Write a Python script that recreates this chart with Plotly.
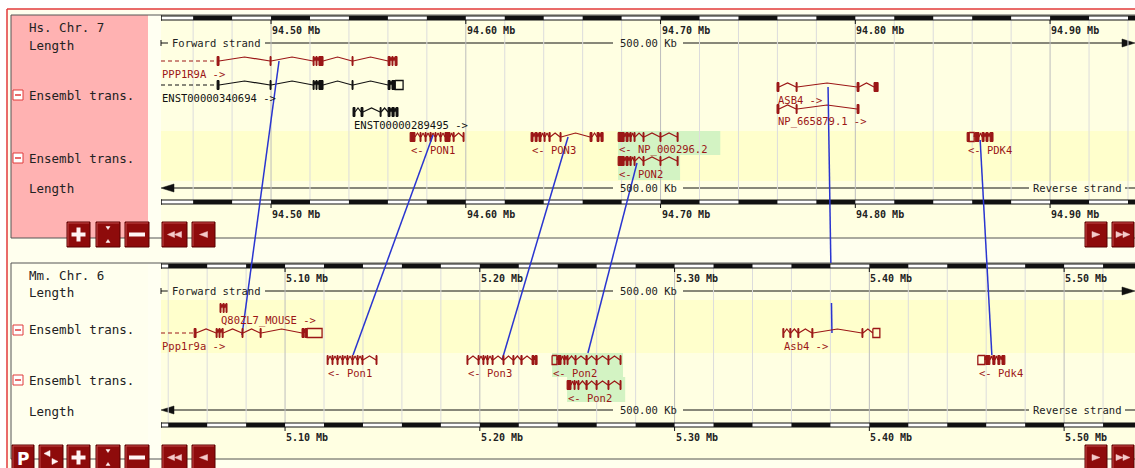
import math
import plotly.graph_objects as go

W, H = 1135, 468
OFF = 0                 # page body margin is removed below, figure fills the window
WF, HF = W - OFF, H - OFF

# ------------------------------------------------------------------ data
HS_VIEW = [94.4435, 94.9436]            # Mb shown, human chr 7
MM_VIEW = [5.0363, 5.5364]              # Mb shown, mouse chr 6
HS_TICKS = [94.50, 94.60, 94.70, 94.80, 94.90]
HS_TICK_LABELS = ["94.50 Mb", "94.60 Mb", "94.70 Mb", "94.80 Mb", "94.90 Mb"]
MM_TICKS = [5.10, 5.20, 5.30, 5.40, 5.50]
MM_TICK_LABELS = ["5.10 Mb", "5.20 Mb", "5.30 Mb", "5.40 Mb", "5.50 Mb"]
RULER_STEP_MB = 0.02
VIEW_LENGTH_LABEL = "500.00 Kb"

HS_TRACK_LABELS = ["Hs. Chr. 7", "Length", "Ensembl trans.", "Ensembl trans.", "Length"]
MM_TRACK_LABELS = ["Mm. Chr. 6", "Length", "Ensembl trans.", "Ensembl trans.", "Length"]

# human transcripts, exon blocks (start, end) in Mb
PPP1R9A_EXONS = [(94.4723, 94.4733), (94.4995, 94.5000), (94.5216, 94.5221), (94.5231, 94.5236),
                 (94.5246, 94.5267), (94.5416, 94.5421), (94.5601, 94.5611), (94.5621, 94.5626),
                 (94.5637, 94.5647)]
ENST340694_EXONS = [(94.4723, 94.4733), (94.4995, 94.5000), (94.5216, 94.5221), (94.5231, 94.5236),
                    (94.5246, 94.5267), (94.5416, 94.5421), (94.5601, 94.5611), (94.5621, 94.5637)]
ENST340694_UTR = [(94.5637, 94.5678)]
ENST289495_EXONS = [(94.5421, 94.5431), (94.5462, 94.5472), (94.5560, 94.5565), (94.5601, 94.5611),
                    (94.5621, 94.5632), (94.5642, 94.5652)]
PON1_EXONS = [(94.5714, 94.5739), (94.5765, 94.5770), (94.5791, 94.5796), (94.5816, 94.5822),
              (94.5842, 94.5847), (94.5868, 94.5873), (94.5893, 94.5919), (94.5935, 94.5940),
              (94.5986, 94.5991)]
PON3_EXONS = [(94.6335, 94.6345), (94.6356, 94.6366), (94.6376, 94.6386), (94.6402, 94.6407),
              (94.6427, 94.6433), (94.6484, 94.6489), (94.6638, 94.6648), (94.6674, 94.6684),
              (94.6694, 94.6705)]
NP000296_EXONS = [(94.6782, 94.6813), (94.6823, 94.6833), (94.6843, 94.6849), (94.6864, 94.6869),
                  (94.6910, 94.6915), (94.6997, 94.7002), (94.7085, 94.7090)]
PON2_EXONS = [(94.6782, 94.6813), (94.6823, 94.6833), (94.6843, 94.6849), (94.6864, 94.6869),
              (94.6910, 94.6915), (94.6997, 94.7002), (94.7085, 94.7090)]
ASB4_EXONS = [(94.7598, 94.7608), (94.7696, 94.7701), (94.8009, 94.8019), (94.8096, 94.8117)]
NP665879_EXONS = [(94.7598, 94.7608), (94.7696, 94.7701), (94.8009, 94.8019)]
PDK4_EXONS = [(94.8574, 94.8584), (94.8615, 94.8635), (94.8651, 94.8661), (94.8671, 94.8681),
              (94.8692, 94.8707)]
PDK4_UTR = [(94.8584, 94.8610)]

# mouse transcripts, exon blocks (start, end) in Mb
Q80ZL7_EXONS = [(5.0666, 5.0671), (5.0682, 5.0687), (5.0697, 5.0702)]
PPP1R9A_MM_EXONS = [(5.0533, 5.0543), (5.0646, 5.0651), (5.0661, 5.0666), (5.0677, 5.0682),
                    (5.0779, 5.0784), (5.0872, 5.0877), (5.1087, 5.1098), (5.1103, 5.1113)]
PPP1R9A_MM_UTR = [(5.1113, 5.1190)]
PON1_MM_EXONS = [(5.1216, 5.1221), (5.1241, 5.1246), (5.1267, 5.1272), (5.1293, 5.1298),
                 (5.1318, 5.1323), (5.1344, 5.1349), (5.1370, 5.1375), (5.1395, 5.1400),
                 (5.1467, 5.1472)]
PON3_MM_EXONS = [(5.1934, 5.1939), (5.1991, 5.1996), (5.2016, 5.2021), (5.2037, 5.2042),
                 (5.2063, 5.2068), (5.2119, 5.2124), (5.2170, 5.2175), (5.2211, 5.2217),
                 (5.2268, 5.2278), (5.2284, 5.2294)]
PON2_MM_A_EXONS = [(5.2401, 5.2417), (5.2432, 5.2437), (5.2448, 5.2453), (5.2489, 5.2494),
                   (5.2545, 5.2551), (5.2597, 5.2602), (5.2658, 5.2663), (5.2720, 5.2725)]
PON2_MM_A_UTR = [(5.2371, 5.2396)]
PON2_MM_B_EXONS = [(5.2448, 5.2468), (5.2484, 5.2489), (5.2504, 5.2509), (5.2545, 5.2551),
                   (5.2597, 5.2602), (5.2658, 5.2663), (5.2720, 5.2725)]
ASB4_MM_EXONS = [(5.3556, 5.3561), (5.3592, 5.3597), (5.3633, 5.3638), (5.3705, 5.3710),
                 (5.3962, 5.3967)]
ASB4_MM_UTR = [(5.4018, 5.4054)]
PDK4_MM_EXONS = [(5.4598, 5.4619), (5.4634, 5.4645), (5.4660, 5.4670), (5.4681, 5.4696)]
PDK4_MM_UTR = [(5.4557, 5.4593)]

# orthologue links (human Mb -> mouse Mb)
LINK_HS_POS = [94.5041, 94.5832, 94.6525, 94.6879, 94.7860, 94.8641]
LINK_MM_POS = [5.0779, 5.1349, 5.2114, 5.2555, 5.3808, 5.4629]

# ------------------------------------------------------------------ style / layout
FONT = "DejaVu Sans Mono"
RED = "#9B1616"
BLK = "#111111"
BLUE = "#2A35D0"
PINK = "#FFB2B2"
CREAM = "#FFFFEE"
TR_LIGHT = "#FFFFE2"
TR_DARK = "#FFFFCC"
GREEN = "#D3F3C3"
BTN = "#8E0B0B"

X0 = 161            # left page pixel of drawing area
MID = (X0 + W) / 2

# glyph centre rows (page pixel y) of every transcript
HS_GENES = [
    dict(ex=PPP1R9A_EXONS, utr=[], label="PPP1R9A ->", color=RED, y=61, upstream=True),
    dict(ex=ENST340694_EXONS, utr=ENST340694_UTR, label="ENST00000340694 ->", color=BLK, y=85, upstream=True),
    dict(ex=ENST289495_EXONS, utr=[], label="ENST00000289495 ->", color=BLK, y=112),
    dict(ex=PON1_EXONS, utr=[], label="<- PON1", color=RED, y=137),
    dict(ex=PON3_EXONS, utr=[], label="<- PON3", color=RED, y=137),
    dict(ex=NP000296_EXONS, utr=[], label="<- NP_000296.2", color=RED, y=137, hl=(131, 155)),
    dict(ex=PON2_EXONS, utr=[], label="<- PON2", color=RED, y=161, hl=(155, 180)),
    dict(ex=ASB4_EXONS, utr=[], label="ASB4 ->", color=RED, y=87),
    dict(ex=NP665879_EXONS, utr=[], label="NP_665879.1 ->", color=RED, y=109),
    dict(ex=PDK4_EXONS, utr=PDK4_UTR, label="<- PDK4", color=RED, y=137),
]
MM_GENES = [
    dict(ex=Q80ZL7_EXONS, utr=[], label="Q80ZL7_MOUSE ->", color=RED, y=308),
    dict(ex=PPP1R9A_MM_EXONS, utr=PPP1R9A_MM_UTR, label="Ppp1r9a ->", color=RED, y=333, upstream=True),
    dict(ex=PON1_MM_EXONS, utr=[], label="<- Pon1", color=RED, y=360),
    dict(ex=PON3_MM_EXONS, utr=[], label="<- Pon3", color=RED, y=360),
    dict(ex=PON2_MM_A_EXONS, utr=PON2_MM_A_UTR, label="<- Pon2", color=RED, y=360, hl=(353, 377)),
    dict(ex=PON2_MM_B_EXONS, utr=[], label="<- Pon2", color=RED, y=385, hl=(377, 402)),
    dict(ex=ASB4_MM_EXONS, utr=ASB4_MM_UTR, label="Asb4 ->", color=RED, y=333),
    dict(ex=PDK4_MM_EXONS, utr=PDK4_MM_UTR, label="<- Pdk4", color=RED, y=360),
]
LINK_Y_TOP = [61, 135, 137, 163, 87, 140]
LINK_Y_BOT = [335, 355, 360, 353, 333, 355]
LINK_GAPS = {4: (263, 303)}      # part of a link hidden behind the mouse ruler tracks

shapes, annos = [], []


def P(xpix):
    return (xpix - OFF) / WF


def rect(x0, y0, x1, y1, fill=None, line=None, lw=1, xref="paper", layer="below"):
    if xref == "paper":
        x0, x1 = P(x0), P(x1)
    shapes.append(dict(type="rect", xref=xref, yref="y", x0=x0, x1=x1, y0=y0, y1=y1,
                       fillcolor=fill if fill else "rgba(0,0,0,0)",
                       line=dict(color=line if line else "rgba(0,0,0,0)", width=lw if line else 0),
                       layer=layer))


def seg(x0, y0, x1, y1, color, lw=1, xref="paper", layer="below", dash=None):
    if xref == "paper":
        x0, x1 = P(x0), P(x1)
    ln = dict(color=color, width=lw)
    if dash:
        ln["dash"] = dash
    shapes.append(dict(type="line", xref=xref, yref="y", x0=x0, x1=x1, y0=y0, y1=y1, line=ln, layer=layer))


def tri(pts, color, layer="below"):
    d = "M " + " L ".join(f"{P(x)},{y}" for x, y in pts) + " Z"
    shapes.append(dict(type="path", xref="paper", yref="y", path=d, fillcolor=color,
                       line=dict(color=color, width=0.5), layer=layer))


def text(x, y, s, size=10, color=BLK, xref="paper", anchor="left", bold=False, family=FONT):
    if xref == "paper":
        x = P(x)
    annos.append(dict(x=x, y=y, xref=xref, yref="y", text=f"<b>{s}</b>" if bold else s,
                      showarrow=False, xanchor=anchor, yanchor="middle", borderpad=0,
                      font=dict(family=family, size=size, color=color)))


# ------------------------------------------------------------------ backgrounds
rect(7, 9, W + 2, H + 2, fill=CREAM)
seg(7, 9, W + 2, 9, "#E23A3A", 1.5)
seg(7, 9, 7, H + 2, "#E23A3A", 1.5)

# top (human) panel
rect(11, 15, 148, 238, fill=PINK)
rect(148, 15, 161, 238, fill="#FFFFF2")
rect(161, 15, W + 2, 131, fill=TR_LIGHT)
rect(161, 131, W + 2, 181, fill=TR_DARK)
rect(161, 181, W + 2, 238, fill=TR_LIGHT)
# bottom (mouse) panel
rect(11, 263, 148, 460, fill=CREAM)
rect(148, 263, 161, 460, fill="#FFFFF2")
rect(161, 263, W + 2, 300, fill=TR_LIGHT)
rect(161, 300, W + 2, 353, fill=TR_DARK)
rect(161, 353, W + 2, 460, fill=TR_LIGHT)

# highlight boxes behind selected transcripts
for genes, axis in ((HS_GENES, "x"), (MM_GENES, "x2")):
    view = HS_VIEW if axis == "x" else MM_VIEW
    pxmb = (W - X0) / (view[1] - view[0])
    for g in genes:
        if "hl" in g:
            s = min(b[0] for b in g["ex"] + g["utr"])
            e = max(b[1] for b in g["ex"] + g["utr"])
            lab_end = s + (len(g["label"]) * 6.3 + 14) / pxmb
            rect(s, g["hl"][0], max(e + 2 / pxmb, lab_end), g["hl"][1], fill=GREEN, xref=axis)


# ------------------------------------------------------------------ grid + rulers
def grid_and_rulers(axis, view, ticks, labels, y_top, y_bot):
    step = RULER_STEP_MB
    k0 = math.ceil(view[0] / step - 1e-9)
    b = k0 * step
    while b <= view[1]:
        major = abs(b * 10 - round(b * 10)) < 1e-6
        seg(b, y_top, b, y_bot + 4, "#BDBDBD" if major else "#DCDCDC", 1, xref=axis)
        b = round(b + step, 6)
    for yr in (y_top, y_bot):
        rect(view[0], yr, view[1], yr + 4, fill="white", line="#111", lw=1, xref=axis)
        black = True
        b = k0 * step
        while b < view[1]:
            e = min(b + step, view[1])
            if black:
                rect(b, yr, e, yr + 4, fill="#111", xref=axis)
            black = not black
            b = round(b + step, 6)
        seg(view[0], yr - 1, view[0], yr + 5, "#111", 1, xref=axis)
        for t, lab in zip(ticks, labels):
            seg(t, yr + 4, t, yr + 8, "#111", 1, xref=axis)
            text(t, yr + 14, lab, size=10, color="#222", xref=axis, bold=True)


grid_and_rulers("x", HS_VIEW, HS_TICKS, HS_TICK_LABELS, 16, 200)
grid_and_rulers("x2", MM_VIEW, MM_TICKS, MM_TICK_LABELS, 264, 423)


# ------------------------------------------------------------------ strand lines
def forward_line(y):
    seg(X0, y - 3, X0, y + 3, BLK, 1)
    seg(X0, y, X0 + 7, y, BLK, 1)
    text(X0 + 10, y, "Forward strand", size=10.5, color="#222")
    seg(265, y, MID - 35, y, BLK, 1)
    text(MID, y, VIEW_LENGTH_LABEL, size=10.5, color="#222", anchor="center")
    seg(MID + 35, y, W - 10, y, BLK, 1)
    tri([(W - 13, y - 4), (W, y), (W - 13, y + 4)], BLK)


def reverse_line(y):
    tri([(X0 + 13, y - 4), (X0, y), (X0 + 13, y + 4)], BLK)
    seg(X0 + 10, y, MID - 35, y, BLK, 1)
    text(MID, y, VIEW_LENGTH_LABEL, size=10.5, color="#222", anchor="center")
    seg(MID + 35, y, 1029, y, BLK, 1)
    text(1032, y, "Reverse strand", size=10.5, color="#222")
    seg(1125, y, W + 2, y, BLK, 1)


forward_line(43)
reverse_line(188)
forward_line(291)
reverse_line(410)

# panel borders
rect(11, 15, W + 5, 238, line="#555", lw=1)
rect(11, 263, W + 5, 459, line="#555", lw=1)

# ------------------------------------------------------------------ left labels
for lab, yy in zip(HS_TRACK_LABELS, [27, 45, 95, 158, 188]):
    text(28, yy, lab, size=12.5, color="#222")
for lab, yy in zip(MM_TRACK_LABELS, [275, 292, 329, 380, 411]):
    text(28, yy, lab, size=12.5, color="#222")
for yy in (95, 158, 330, 380):
    rect(13, yy - 5, 23, yy + 5, fill="white", line="#E03A3A", lw=1)
    seg(15, yy, 21, yy, "#E03A3A", 1.5)


# ------------------------------------------------------------------ buttons
def button(x0, x1, y0, y1, kind):
    rect(x0, y0, x1, y1, fill=BTN, line="#5A0000", lw=1, layer="above")
    seg(x0 + 1, y0 + 1, x1 - 1, y0 + 1, "#C04848", 1, layer="above")
    seg(x0 + 1, y0 + 1, x0 + 1, y1 - 1, "#C04848", 1, layer="above")
    cx, cy = (x0 + x1) / 2, (y0 + y1) / 2
    wht = "#FFF4F4"
    if kind == "plus":
        rect(cx - 7, cy - 2, cx + 7, cy + 2, fill=wht, layer="above")
        rect(cx - 2, cy - 7, cx + 2, cy + 7, fill=wht, layer="above")
    elif kind == "minus":
        rect(cx - 8, cy - 2, cx + 8, cy + 2, fill=wht, layer="above")
    elif kind == "dots":
        tri([(cx - 2, cy - 8), (cx + 2, cy - 8), (cx, cy - 5)], wht, layer="above")
        tri([(cx - 2, cy + 8), (cx + 2, cy + 8), (cx, cy + 5)], wht, layer="above")
    elif kind == "left":
        tri([(cx + 4, cy - 3), (cx - 4, cy), (cx + 4, cy + 3)], "#F4CACA", layer="above")
    elif kind == "left2":
        tri([(cx, cy - 3), (cx - 7, cy), (cx, cy + 3)], "#F4CACA", layer="above")
        tri([(cx + 7, cy - 3), (cx, cy), (cx + 7, cy + 3)], "#F4CACA", layer="above")
    elif kind == "right":
        tri([(cx - 4, cy - 3), (cx + 4, cy), (cx - 4, cy + 3)], "#F4CACA", layer="above")
    elif kind == "right2":
        tri([(cx - 7, cy - 3), (cx, cy), (cx - 7, cy + 3)], "#F4CACA", layer="above")
        tri([(cx, cy - 3), (cx + 7, cy), (cx, cy + 3)], "#F4CACA", layer="above")
    elif kind == "swap":
        tri([(cx - 1, cy - 7), (cx - 7, cy - 4), (cx - 1, cy - 1)], wht, layer="above")
        tri([(cx + 1, cy + 1), (cx + 7, cy + 4), (cx + 1, cy + 7)], wht, layer="above")
    elif kind == "P":
        text(cx, cy + 1, "P", size=17, color="white", anchor="center", bold=True, family="DejaVu Sans")


for (x0, x1, k) in [(67, 90, "plus"), (96, 120, "dots"), (125, 149, "minus"), (162, 187, "left2"),
                    (192, 215, "left"), (1085, 1107, "right"), (1112, 1134, "right2")]:
    button(x0, x1, 222, 247, k)
for (x0, x1, k) in [(12, 34, "P"), (39, 63, "swap"), (67, 90, "plus"), (96, 120, "dots"),
                    (125, 149, "minus"), (162, 187, "left2"), (192, 215, "left"),
                    (1085, 1107, "right"), (1112, 1134, "right2")]:
    button(x0, x1, 445, 470, k)

# ------------------------------------------------------------------ transcripts
fig = go.Figure()
EXH, HAT = 9, 4


def add_gene(g, xa, view):
    yc = g["y"]
    blocks = sorted(g["ex"] + g["utr"])
    fx, fy, ox, oy, ix, iy = [], [], [], [], [], []
    for s, e in g["ex"]:
        fx += [s, e, e, s, s, None]
        fy += [yc - EXH / 2, yc - EXH / 2, yc + EXH / 2, yc + EXH / 2, yc - EXH / 2, None]
    for s, e in g["utr"]:
        ox += [s, e, e, s, s, None]
        oy += [yc - EXH / 2, yc - EXH / 2, yc + EXH / 2, yc + EXH / 2, yc - EXH / 2, None]
    for (s0, e0), (s1, e1) in zip(blocks, blocks[1:]):
        if s1 > e0:
            ix += [e0, (e0 + s1) / 2, s1, None]
            iy += [yc, yc - HAT, yc, None]
    c = g["color"]
    fig.add_trace(go.Scatter(x=fx, y=fy, xaxis=xa, yaxis="y", mode="lines", fill="toself",
                             fillcolor=c, line=dict(color=c, width=1), hoverinfo="skip"))
    if ox:
        fig.add_trace(go.Scatter(x=ox, y=oy, xaxis=xa, yaxis="y", mode="lines",
                                 line=dict(color=c, width=1.3), hoverinfo="skip"))
    fig.add_trace(go.Scatter(x=ix, y=iy, xaxis=xa, yaxis="y", mode="lines",
                             line=dict(color=c, width=1.2), hoverinfo="skip"))
    start = blocks[0][0]
    if g.get("upstream"):
        fig.add_trace(go.Scatter(x=[view[0], start], y=[yc, yc], xaxis=xa, yaxis="y", mode="lines",
                                 line=dict(color=c, width=1.2, dash="4px,3px"), hoverinfo="skip"))
        lab_x = view[0]
    else:
        lab_x = start
    text(lab_x, yc + 12.5, g["label"], size=10.5, color=c, xref=xa)


for g in HS_GENES:
    add_gene(g, "x", HS_VIEW)
for g in MM_GENES:
    add_gene(g, "x2", MM_VIEW)

# ------------------------------------------------------------------ orthologue links
scale = (HS_VIEW[1] - HS_VIEW[0]) / (MM_VIEW[1] - MM_VIEW[0])
lx, ly = [], []
for i, (h, m, yt, yb) in enumerate(zip(LINK_HS_POS, LINK_MM_POS, LINK_Y_TOP, LINK_Y_BOT)):
    xb = HS_VIEW[0] + (m - MM_VIEW[0]) * scale
    if i in LINK_GAPS:
        g0, g1 = LINK_GAPS[i]
        xg0 = h + (xb - h) * (g0 - yt) / (yb - yt)
        xg1 = h + (xb - h) * (g1 - yt) / (yb - yt)
        lx += [h, xg0, None, xg1, xb, None]
        ly += [yt, g0, None, g1, yb, None]
    else:
        lx += [h, xb, None]
        ly += [yt, yb, None]
fig.add_trace(go.Scatter(x=lx, y=ly, xaxis="x", yaxis="y", mode="lines",
                         line=dict(color=BLUE, width=1.5), hoverinfo="skip"))

fig.update_layout(
    width=WF, height=HF, margin=dict(l=0, r=0, t=0, b=0),
    paper_bgcolor="white", plot_bgcolor="rgba(0,0,0,0)", showlegend=False,
    xaxis=dict(domain=[(X0 - OFF) / WF, 1], range=HS_VIEW, visible=False, fixedrange=True),
    xaxis2=dict(domain=[(X0 - OFF) / WF, 1], range=MM_VIEW, visible=False, overlaying="x",
                anchor="y", fixedrange=True),
    yaxis=dict(domain=[0, 1], range=[H, OFF], visible=False, fixedrange=True),
    shapes=shapes, annotations=annos,
)
fig.write_html("out.html", config={"displayModeBar": False},
               post_script="document.body.style.margin='0px';document.body.style.overflow='hidden';")
